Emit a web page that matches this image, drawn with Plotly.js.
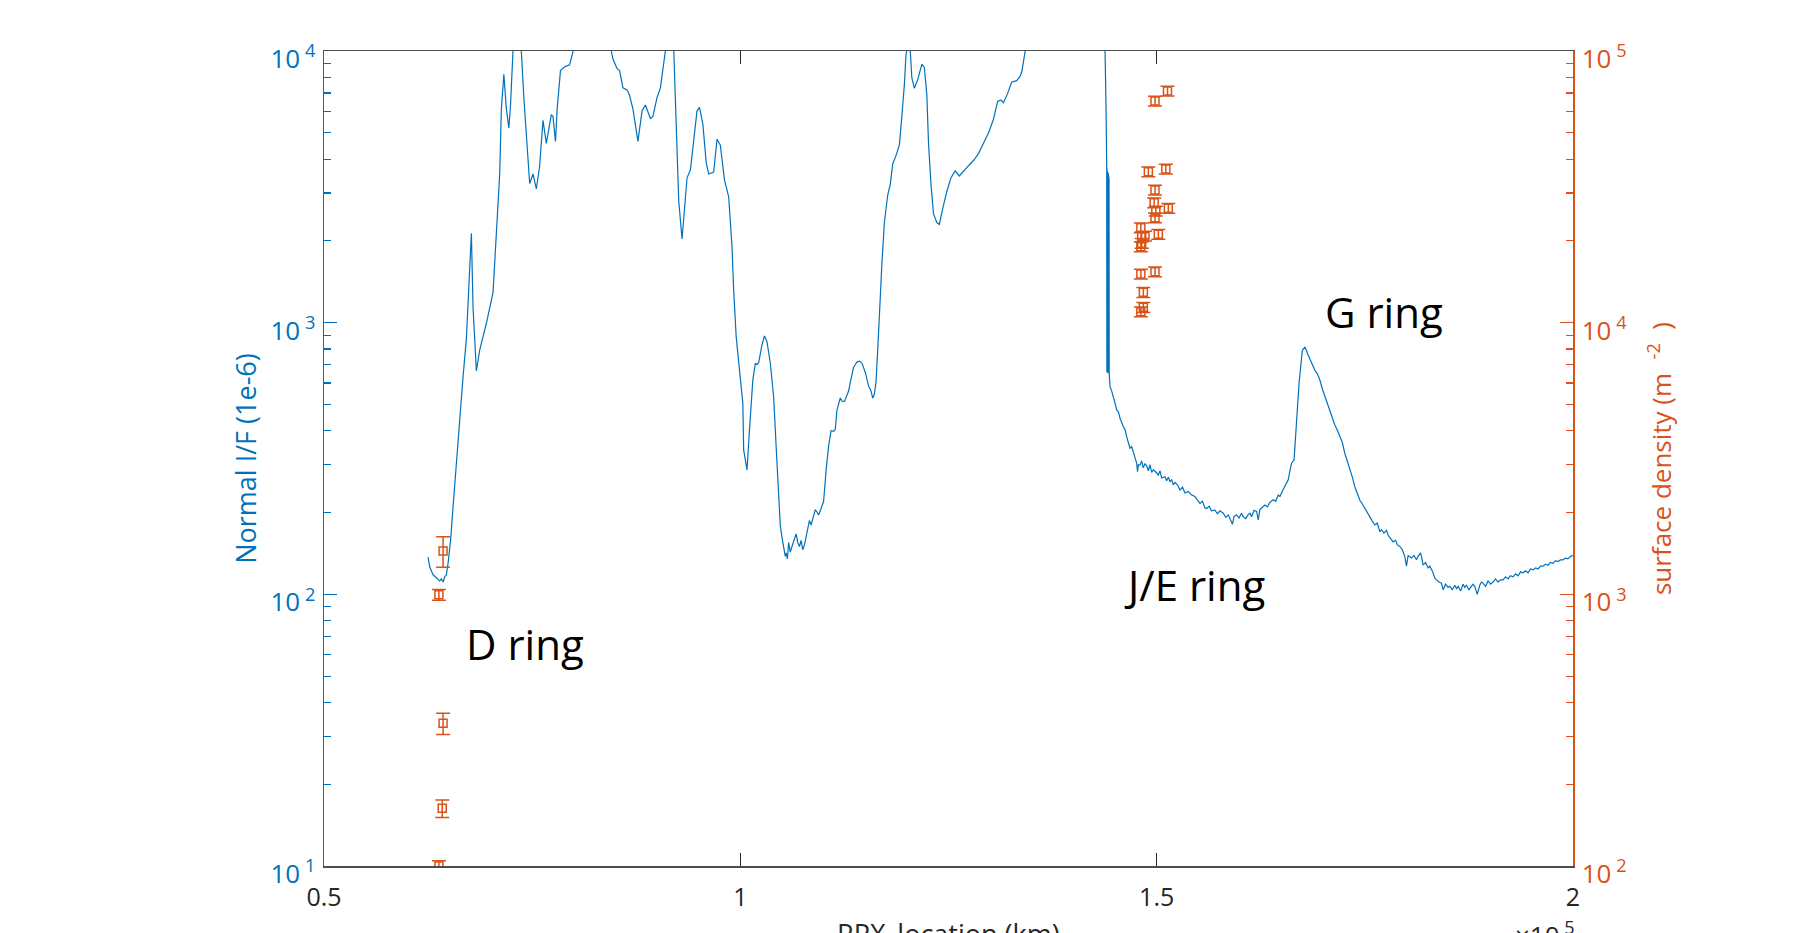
<!DOCTYPE html>
<html>
<head>
<meta charset="utf-8">
<script src="https://cdn.plot.ly/plotly-3.0.1.min.js"></script>
<style>html,body{margin:0;padding:0;background:#fff;}#chart{width:1815px;height:933px;}</style>
</head>
<body>
<div id="chart"></div>
<script>
// Normal I/F profile (1e-6) versus radial location (km)
const ifX = [62500,62700,63100,63500,63900,64100,64300,64500,64700,64900,65200,65500,65900,66300,66700,67100,67300,67500,67700,67900,68300,68700,69500,70300,70700,71100,71300,71600,71900,72200,72400,72700,73000,73400,73700,74000,74300,74400,74700,75100,75500,75900,76300,76700,77300,77500,77800,78000,78400,78900,79500,79900,80500,82000,84000,84500,84700,85200,85500,85900,86400,86700,87100,87700,88200,88600,89200,89500,90000,90400,91000,91500,92000,92300,92600,93000,93300,93600,94000,94400,94800,95100,95500,95900,96200,96800,97200,97600,98100,98600,99000,99200,99500,99900,100300,100400,100800,101100,101500,101800,102000,102200,102600,102900,103200,103600,104000,104300,104600,104800,105000,105200,105400,105500,105650,105800,106000,106200,106400,106700,106900,107100,107300,107500,107700,107900,108100,108300,108500,108800,109000,109200,109400,109700,110000,110300,110600,110900,111200,111400,111600,112000,112200,112500,112800,113000,113200,113600,113800,114000,114300,114600,115000,115400,115700,115900,116100,116300,116500,116700,117000,117300,117700,118000,118300,118700,119100,119400,119700,119900,120200,120400,120600,120900,121300,121800,122100,122400,122600,122900,123200,123600,123900,124300,124800,125300,125800,126300,126800,127400,128000,128600,129200,129800,130400,130900,131300,131600,132100,132600,133200,133600,133800,134200,135000,138000,142000,143500,143800,143920,144000,144020,144040,144060,144080,144100,144120,144140,144160,144180,144200,144220,144240,144260,144280,144300,144400,144600,144900,145200,145400,145600,146000,146200,146400,146800,147000,147200,147400,147600,147700,147800,148000,148200,148400,148600,148800,149000,149200,149400,149600,149900,150200,150400,150600,151000,151200,151400,151600,151800,152000,152200,152500,152800,153100,153400,153800,154200,154600,154900,155200,155500,155800,156000,156300,156600,157000,157300,157600,158000,158300,158600,158800,159100,159300,159600,159900,160200,160400,160700,161000,161200,161400,161700,162000,162200,162400,162700,163000,163300,163600,164000,164300,164600,164800,165100,165400,165600,165800,166000,166200,166500,166800,167100,167500,167700,167800,168000,168100,168400,168600,169000,169300,169600,169900,170200,170500,170800,171100,171400,171700,172000,172300,172600,172900,173200,173500,173800,174000,174200,174400,174700,175000,175300,175600,175900,176200,176500,176800,177000,177300,177600,177800,178100,178400,178700,178900,179200,179500,179800,180000,180200,180600,180900,181200,181400,181700,182000,182300,182600,182800,183100,183400,183600,183900,184200,184400,184700,185000,185200,185500,185800,186000,186200,186500,186800,187000,187200,187500,187800,188000,188200,188500,188800,189000,189200,189500,189800,190100,190400,190700,191000,191300,191600,191900,192200,192500,192800,193100,193400,193700,194000,194300,194600,194900,195200,195500,195800,196100,196400,196700,197000,197300,197600,197900,198200,198500,198800,199100,199400,199700,200000];
const ifV = [137,126,118,115,112,114,111,116,118,130,158,210,310,428,632,875,1133,1568,2133,1132,664,793,995,1290,2032,3526,6120,8200,6120,5206,6326,9950,16000,20000,9950,6746,4878,4147,3252,3526,3105,3772,5553,4574,5833,5740,4648,6114,8468,8745,8887,9950,13000,18000,14000,10000,9344,8605,8468,7318,7195,6855,6120,4648,6024,6326,5642,5740,6746,7318,9950,13000,10200,4878,2811,2032,2720,3414,3646,4574,6024,6203,5377,3886,3526,3585,4731,4500,3350,2908,1904,1319,888,669,505,340,287,403,615,709,700,712,828,893,851,709,534,350,229,179,162,150,138,142,135,155,143,150,158,167,155,150,158,146,152,164,178,187,180,193,205,201,196,207,220,286,351,400,398,405,476,528,515,512,543,560,602,686,700,716,722,710,657,585,559,528,545,610,793,1126,1647,2337,2951,3223,3837,4127,4507,5774,7508,9763,10500,10100,7959,7295,7845,8947,8694,6879,4574,3223,2514,2337,2300,2627,3039,3417,3620,3467,3620,3782,3953,4191,4574,4991,5609,6527,6600,6450,6983,7688,7780,8075,8388,10000,14000,20000,18000,12000,10000,6235,3750,660,3700,655,3650,665,3600,652,3550,660,3500,655,3450,660,3400,651,581,560,519,477,470,445,414,405,380,345,350,330,318,304,283,300,299,310,292,303,297,285,300,281,287,282,275,285,268,271,262,270,260,264,253,258,253,242,248,236,239,232,229,222,216,220,208,207,211,203,204,198,203,199,192,196,190,181,194,196,191,199,193,190,197,199,193,204,202,188,205,209,213,210,218,223,220,232,229,240,249,256,264,285,304,312,414,598,793,805,812,790,771,735,709,669,648,615,570,534,505,470,448,420,402,380,362,330,310,287,270,249,238,228,222,215,207,200,191,186,180,183,170,173,168,172,165,161,156,158,152,150,146,138,127,139,136,139,134,138,142,128,131,125,127,122,115,113,111,110,104,109,106,107,104,108,105,107,103,109,106,108,104,107,109,107,100,108,111,110,107,112,109,111,114,111,113,113,116,114,117,116,119,117,121,120,122,120,124,123,125,124,127,127,129,128,131,130,133,132,134,134,136,135,138,139];

// Surface density (m^-2) measurements with error bars
const sdX = [64300,63800,64300,64200,63800,151300,149800,149000,151100,149800,149700,151400,149900,149800,148100,150200,148200,148600,148200,148100,148100,149800,148400,148400,148100];
const sdY = [1444,997,335,163,100,71240,65450,35940,36770,30780,27640,26360,25760,24340,22360,21140,20720,20840,19600,19040,15110,15400,12930,11390,10970];
const sdErr = [185,45,30,12,4.5,2900,2700,1500,1500,1300,1150,1100,1050,1000,930,880,860,870,820,800,630,640,540,480,460];

// Axis ticks
const xTickVals = [50000,100000,150000,200000];
const xTickText = ['0.5','1','1.5','2'];
const yTickVals = [10,100,1000,10000];
const yTickText = ['10<sup> 1</sup>','10<sup> 2</sup>','10<sup> 3</sup>','10<sup> 4</sup>'];
const yMinorVals = [20,30,40,50,60,70,80,90,200,300,400,500,600,700,800,900,2000,3000,4000,5000,6000,7000,8000,9000];
const y2TickVals = [100,1000,10000,100000];
const y2TickText = ['10<sup> 2</sup>','10<sup> 3</sup>','10<sup> 4</sup>','10<sup> 5</sup>'];
const y2MinorVals = [200,300,400,500,600,700,800,900,2000,3000,4000,5000,6000,7000,8000,9000,20000,30000,40000,50000,60000,70000,80000,90000];

// Ring labels
const ringLabels = ['D ring','J/E ring','G ring'];
const ringLabelX = [0.161,0.697,0.849];
const ringLabelY = [0.273,0.345,0.680];

const BLUE = '#0072BD';
const ORANGE = '#D95319';
const DARK = '#262626';

const traces = [
  {
    x: ifX, y: ifV, type: 'scatter', mode: 'lines', yaxis: 'y',
    line: {color: BLUE, width: 1.2}, hoverinfo: 'x+y'
  },
  {
    x: sdX, y: sdY, type: 'scatter', mode: 'markers', yaxis: 'y2',
    marker: {symbol: 'square-open', size: 8, color: ORANGE, line: {color: ORANGE, width: 1.5}},
    error_y: {type: 'data', array: sdErr, visible: true, color: ORANGE, thickness: 1.5, width: 7}
  }
];

const annotations = ringLabels.map((t, i) => ({
  text: t, xref: 'paper', yref: 'paper', x: ringLabelX[i], y: ringLabelY[i],
  xanchor: 'center', yanchor: 'middle', showarrow: false,
  font: {family: 'Open Sans, sans-serif', size: 42, color: '#000'}
}));
// x-axis title (sits partly below the bottom edge, as in the reference)
annotations.push({
  text: 'RPX_location (km)', xref: 'paper', yref: 'paper', x: 0.5, y: -0.058,
  xanchor: 'center', yanchor: 'top', showarrow: false,
  font: {family: 'Open Sans, sans-serif', size: 27, color: DARK}
});
annotations.push({
  text: '×10<sup> 5</sup>', xref: 'paper', yref: 'paper', x: 1.003, y: -0.058,
  xanchor: 'right', yanchor: 'top', showarrow: false,
  font: {family: 'Open Sans, sans-serif', size: 26, color: DARK}
});

const layout = {
  width: 1815, height: 933,
  margin: {l: 324, r: 242, t: 51, b: 67, pad: 0},
  paper_bgcolor: '#ffffff', plot_bgcolor: '#ffffff',
  font: {family: 'Open Sans, sans-serif', color: DARK},
  showlegend: false,
  xaxis: {
    type: 'linear', range: [50000, 200000], tickmode: 'array', tickvals: xTickVals, ticktext: xTickText,
    ticks: 'inside', ticklen: 13, tickwidth: 1.3, tickcolor: DARK,
    showline: true, linecolor: '#4d4d4d', linewidth: 1.5, mirror: 'ticks',
    showgrid: false, zeroline: false, automargin: false,
    tickfont: {size: 25, color: DARK}, ticklabelstandoff: 8
  },
  yaxis: {
    type: 'log', range: [1, 4], tickmode: 'array', tickvals: yTickVals, ticktext: yTickText,
    ticks: 'inside', ticklen: 13, tickwidth: 1.3, tickcolor: BLUE,
    showline: true, linecolor: BLUE, linewidth: 1.5,
    showgrid: false, zeroline: false, automargin: false,
    tickfont: {size: 26, color: BLUE}, ticklabelshift: 8, ticklabelstandoff: 2,
    minor: {tickmode: 'array', tickvals: yMinorVals, ticks: 'inside', ticklen: 7, tickwidth: 1.2, tickcolor: BLUE, showgrid: false},
    title: {text: 'Normal I/F (1e-6)', font: {size: 27, color: BLUE}, standoff: 6}
  },
  yaxis2: {
    type: 'log', range: [2, 5], overlaying: 'y', side: 'right', tickmode: 'array', tickvals: y2TickVals, ticktext: y2TickText,
    ticks: 'inside', ticklen: 13, tickwidth: 1.3, tickcolor: ORANGE,
    showline: true, linecolor: ORANGE, linewidth: 1.5,
    showgrid: false, zeroline: false, automargin: false,
    tickfont: {size: 26, color: ORANGE}, ticklabelshift: 8, ticklabelstandoff: 2,
    minor: {tickmode: 'array', tickvals: y2MinorVals, ticks: 'inside', ticklen: 7, tickwidth: 1.2, tickcolor: ORANGE, showgrid: false},
    title: {text: 'surface density (m\u00a0\u00a0<sup>-2</sup>\u00a0\u00a0)', font: {size: 26, color: ORANGE}, standoff: 26}
  },
  annotations: annotations
};

Plotly.newPlot('chart', traces, layout, {displayModeBar: false, staticPlot: true});
</script>
</body>
</html>
